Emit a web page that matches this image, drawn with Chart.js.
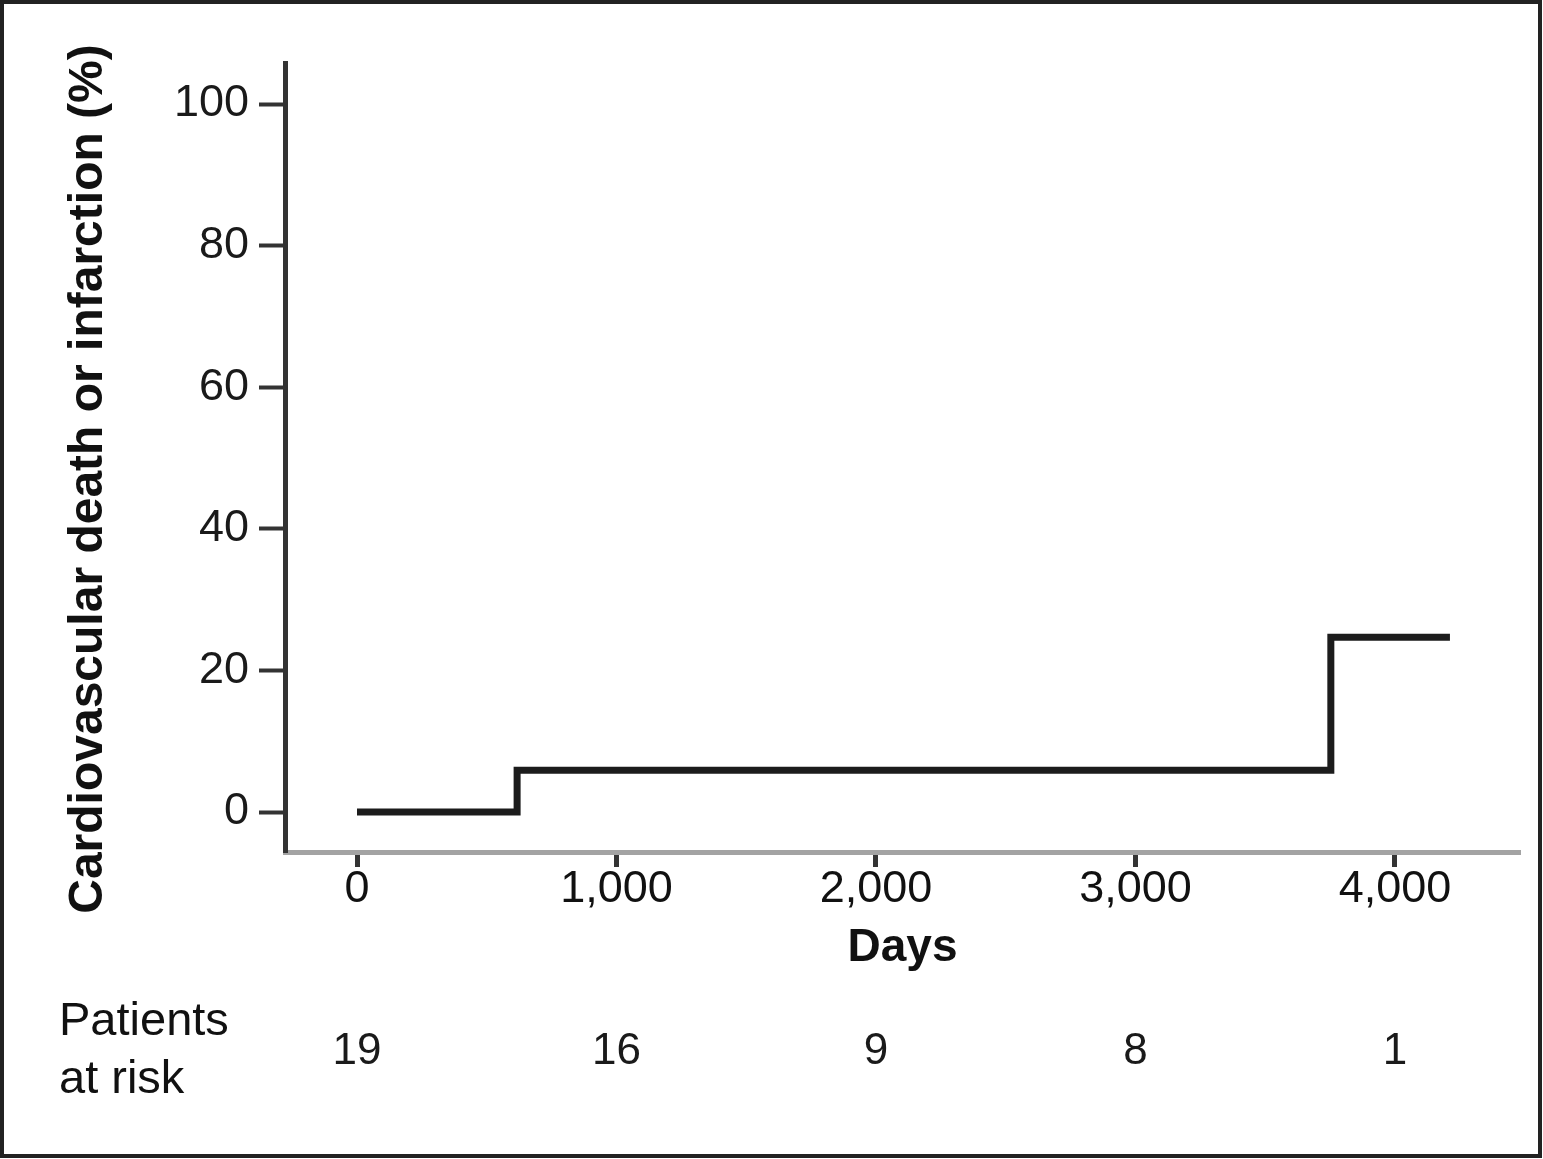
<!DOCTYPE html>
<html>
<head>
<meta charset="utf-8">
<script src="https://cdn.jsdelivr.net/npm/chart.js@4/dist/chart.umd.min.js"></script>
<style>
  html, body { margin: 0; padding: 0; background: #fff; }
  canvas { display: block; }
</style>
</head>
<body>
<canvas id="kmchart" width="1543" height="1159"></canvas>
<script>
// Kaplan-Meier style step curve
const eventDays = [0, 617, 3753, 4212];
const eventPct  = [0, 5.9, 24.7, 24.7];

const xTicks = [0, 1000, 2000, 3000, 4000];
const yTicks = [0, 20, 40, 60, 80, 100];

// patients at risk row
const riskDays   = [0, 1000, 2000, 3000, 4000];
const riskCounts = [19, 16, 9, 8, 1];

const yTitle = 'Cardiovascular death or infarction (%)';
const xTitle = 'Days';

const FONT = "'Liberation Sans', Arial, Helvetica, sans-serif";

const points = eventDays.map((d, i) => ({ x: d, y: eventPct[i] }));

// extra text: frame, axis titles, risk table
const extrasPlugin = {
    id: 'extras',
    afterDraw(chart) {
        const ctx = chart.ctx;
        const xs = chart.scales.x;
        const area = chart.chartArea;
        ctx.save();

        ctx.strokeStyle = '#222';
        ctx.lineWidth = 4;
        ctx.strokeRect(2, 2, 1538, 1154);

        ctx.fillStyle = '#111';
        ctx.font = 'bold 48px ' + FONT;
        ctx.textAlign = 'center';
        ctx.textBaseline = 'alphabetic';
        ctx.save();
        ctx.translate(102, 479);
        ctx.rotate(-Math.PI / 2);
        ctx.fillText(yTitle, 0, 0);
        ctx.restore();

        ctx.font = 'bold 46px ' + FONT;
        ctx.fillText(xTitle, (area.left + area.right) / 2, 961);

        ctx.font = '47px ' + FONT;
        ctx.textAlign = 'left';
        ctx.fillText('Patients', 59, 1035);
        ctx.fillText('at risk', 59, 1093);

        ctx.font = '500 44px ' + FONT;
        ctx.fillStyle = '#1a1a1a';
        ctx.textAlign = 'center';
        ctx.textBaseline = 'middle';
        riskCounts.forEach((n, i) => {
            ctx.fillText(String(n), xs.getPixelForValue(riskDays[i]), 1052);
        });

        ctx.restore();
    }
};

const config = {
    type: 'line',
    data: {
        datasets: [{
            data: points,
            stepped: 'before',
            borderColor: '#1c1c1c',
            borderWidth: 7,
            borderCapStyle: 'butt',
            borderJoinStyle: 'miter',
            pointRadius: 0,
            fill: false
        }]
    },
    options: {
        responsive: false,
        devicePixelRatio: 1,
        animation: false,
        layout: { padding: { left: 0, top: 63, right: 23, bottom: 0 } },
        plugins: {
            legend: { display: false },
            tooltip: { enabled: false },
            title: { display: false }
        },
        scales: {
            x: {
                type: 'linear',
                min: -277.5,
                max: 4482,
                afterFit: s => { s.height = 1159 - 852; },
                afterBuildTicks: s => { s.ticks = xTicks.map(v => ({ value: v })); },
                grid: {
                    drawOnChartArea: false,
                    drawTicks: true,
                    tickLength: 15,
                    tickWidth: 5,
                    tickColor: '#333'
                },
                border: { display: true, color: '#a3a3a3', width: 5 },
                ticks: {
                    padding: 0,
                    maxRotation: 0,
                    autoSkip: false,
                    color: '#111',
                    font: { family: FONT, size: 45, lineHeight: 1 },
                    callback: v => v.toLocaleString('en-US')
                }
            },
            y: {
                type: 'linear',
                min: -5.65,
                max: 105.8,
                afterFit: s => { s.width = 285; },
                afterBuildTicks: s => { s.ticks = yTicks.map(v => ({ value: v })); },
                grid: {
                    drawOnChartArea: false,
                    drawTicks: true,
                    tickLength: 26,
                    tickWidth: 4,
                    tickColor: '#333'
                },
                border: { display: true, color: '#333', width: 5 },
                ticks: {
                    padding: 10,
                    autoSkip: false,
                    color: '#1a1a1a',
                    font: { family: FONT, size: 45, lineHeight: 1 }
                }
            }
        }
    },
    plugins: [extrasPlugin]
};

const chart = new Chart(document.getElementById('kmchart'), config);
</script>
</body>
</html>
